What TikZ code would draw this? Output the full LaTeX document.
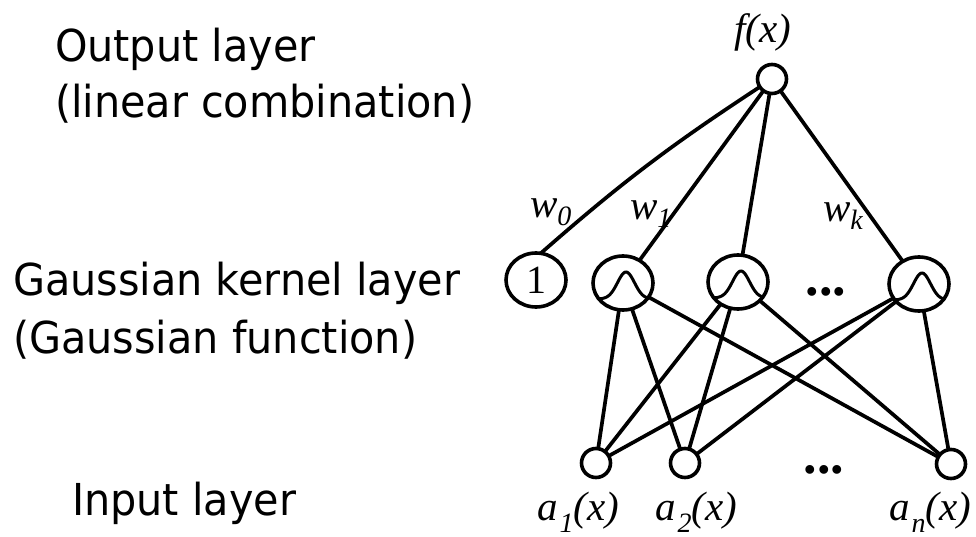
\documentclass[tikz,border=0pt]{standalone}
\usepackage{fontspec}
\usetikzlibrary{shapes.geometric}
\newfontfamily\labfont[FakeStretch=0.94]{DejaVu Sans}
\newfontfamily\tmsfont{Liberation Serif}
\newcommand{\subsc}[1]{\kern2pt\raisebox{-12pt}{\fontsize{28}{28}\selectfont #1}}
\begin{document}
\begin{tikzpicture}[x=1pt,y=-1pt,
  every node/.style={inner sep=0pt, outer sep=0pt},
  conn/.style={line width=3.7pt},
  inp/.style={circle, draw, line width=3.6pt, minimum size=29pt},
  hid/.style={ellipse, draw, line width=3.6pt, minimum width=60pt, minimum height=54pt},
  lay/.style={anchor=base west, font=\labfont\fontsize{44}{50}\selectfont},
  mlab/.style={anchor=base west, font=\tmsfont\itshape\fontsize{41}{46}\selectfont},
  dotlab/.style={font=\tmsfont\bfseries\fontsize{54}{54}\selectfont},
  gauss/.style={line width=3pt}
]
\fill[white] (0,0) rectangle (976,537);
\useasboundingbox (0,0) rectangle (976,537);

% layer descriptions
\node[lay] (t1) at (55,62) {Output layer};
\node[lay] (t2) at (55,118) {(linear combination)};
\node[lay] (t3) at (13,295) {Gaussian kernel layer};
\node[lay] (t4) at (13,353) {(Gaussian function)};
\node[lay] (t5) at (72,515) {Input layer};

% network nodes
\node[inp] (f) at (772,79) {};
\node[hid] (one) at (536,280) {\tmsfont\fontsize{40}{40}\selectfont 1};
\node[hid] (g1) at (623,283) {};
\node[hid] (g2) at (738,282) {};
\node[hid] (gk) at (919,284) {};
\node[inp] (a1) at (596,463) {};
\node[inp] (a2) at (685,463) {};
\node[inp] (an) at (951,464) {};

% gaussian bumps
\foreach \g in {g1,g2,gk}{
  \begin{scope}[shift={(\g.center)}]
    \draw[gauss] plot[domain=-23:26, samples=40, smooth] (\x,{16-27*exp(-((\x-3)/12)*((\x-3)/12))});
  \end{scope}
}

% connectors
\draw[conn] (f) to[bend right=4] (one.80);
\foreach \g in {g1,g2,gk} \draw[conn] (f) -- (\g);
\foreach \g in {g1,g2,gk}{
  \foreach \a in {a1,a2,an} \draw[conn] (\g) -- (\a);
}

% labels
\node[mlab] (lf) at (734,43) {f(x)};
\node[mlab] (lw0) at (530,218) {w\raisebox{-8pt}{\fontsize{28}{28}\selectfont 0}};
\node[mlab] (lw1) at (630,220) {w\raisebox{-8pt}{\fontsize{28}{28}\selectfont 1}};
\node[mlab] (lwk) at (823,222) {w\raisebox{-8pt}{\fontsize{28}{28}\selectfont k}};
\node[mlab] (la1) at (537,520) {a\subsc{1}(x)};
\node[mlab] (la2) at (655,520) {a\subsc{2}(x)};
\node[mlab] (lan) at (889,520) {a\subsc{n}(x)};

\node[dotlab] (hd) at (826,292) {...};
\node[dotlab] (id) at (824,470) {...};
\end{tikzpicture}
\end{document}
